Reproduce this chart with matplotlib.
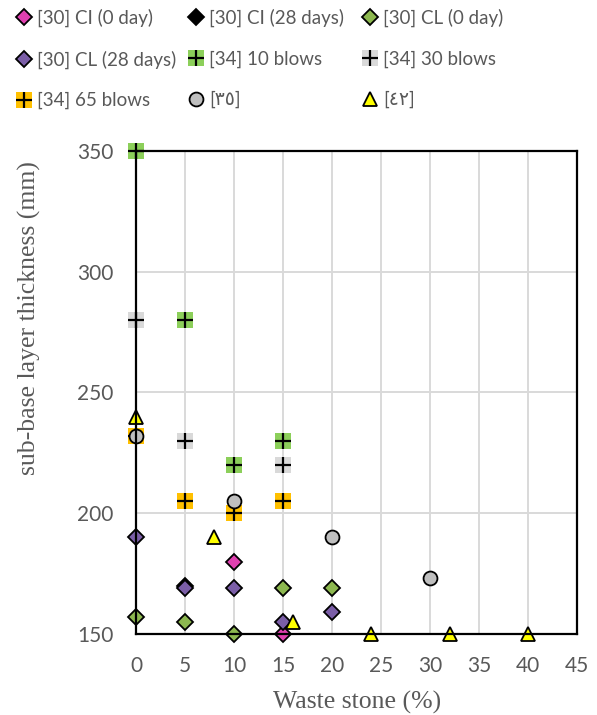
import numpy as np
import matplotlib.pyplot as plt

# data
ci0_x = [10, 15]
ci0_y = [180, 150]
ci28_x = [5]
ci28_y = [170]
cl0_x = [0, 5, 10, 15, 20]
cl0_y = [157, 155, 150, 169, 169]
cl28_x = [0, 5, 10, 15, 20]
cl28_y = [190, 169, 169, 155, 159]
b10_x = [0, 5, 10, 15]
b10_y = [350, 280, 220, 230]
b30_x = [0, 5, 15]
b30_y = [280, 230, 220]
b65_x = [0, 5, 10, 15]
b65_y = [232, 205, 200, 205]
r35_x = [0, 10, 20, 30]
r35_y = [232, 205, 190, 173]
r42_x = [0, 8, 16, 24, 32, 40]
r42_y = [240, 190, 155, 150, 150, 150]

labels = ['[30] CI (0 day)', '[30] CI (28 days)', '[30] CL (0 day)',
          '[30] CL (28 days)', '[34] 10 blows', '[34] 30 blows',
          '[34] 65 blows', '[\u0663\u0665]', '[\u0664\u0662]']

txt = '#595959'
plt.rcParams['font.family'] = ['Lato', 'DejaVu Sans']

fig = plt.figure(figsize=(5.97, 7.15), dpi=100)
ax = fig.add_axes([0.2278, 0.1133, 0.7387, 0.6755])

handles = []
dkw = dict(ls='none', marker='D', ms=8.5, mec='black', mew=1.3, clip_on=False)
handles.append(ax.plot(ci0_x, ci0_y, mfc='#e040b0', **dkw)[0])
handles.append(ax.plot(ci28_x, ci28_y, mfc='black', **dkw)[0])
handles.append(ax.plot(cl0_x, cl0_y, mfc='#8db850', **dkw)[0])
handles.append(ax.plot(cl28_x, cl28_y, mfc='#7b5ea7', **dkw)[0])

for xs, ys, col in [(b10_x, b10_y, '#8ccf5a'), (b30_x, b30_y, '#d9d9d9'), (b65_x, b65_y, '#ffc000')]:
    sq = ax.plot(xs, ys, ls='none', marker='s', ms=11, mfc=col, mec=col, mew=0, clip_on=False)[0]
    pl = ax.plot(xs, ys, ls='none', marker='+', ms=11, mec='black', mew=1.6, clip_on=False)[0]
    handles.append((sq, pl))

handles.append(ax.plot(r35_x, r35_y, ls='none', marker='o', ms=10, mfc='#bfbfbf', mec='black',
                       mew=1.3, clip_on=False)[0])
handles.append(ax.plot(r42_x, r42_y, ls='none', marker='^', ms=10, mfc='#ffff00', mec='black',
                       mew=1.3, clip_on=False)[0])

ax.set_xlim(0, 45)
ax.set_ylim(150, 350)
ax.set_xticks(np.arange(0, 46, 5))
ax.set_yticks(np.arange(150, 351, 50))
ax.grid(True, color='#d9d9d9', lw=1.4)
ax.set_axisbelow(True)
for s in ax.spines.values():
    s.set_color('black')
    s.set_linewidth(1.6)
ax.tick_params(length=0, labelsize=15, labelcolor=txt)
ax.tick_params(axis='x', pad=16)
ax.tick_params(axis='y', pad=16)

fig.text(357 / 597, 1 - 702 / 715, 'Waste stone (%)', family='Liberation Serif',
         fontsize=18.5, color=txt, ha='center', va='center')
fig.text(29 / 597, 1 - 318 / 715, 'sub-base layer thickness (mm)', family='Liberation Serif',
         fontsize=18.5, color=txt, ha='center', va='center', rotation=90)

# one legend per column so the columns sit where they do in the reference
cols = [[0, 3, 6], [1, 4, 7], [2, 5, 8]]
xpos = [0.0237, 0.3125, 0.604]
for idx, x0 in zip(cols, xpos):
    leg = fig.legend([handles[i] for i in idx], [labels[i] for i in idx], ncol=1,
                     loc='upper left', bbox_to_anchor=(x0, 0.988), frameon=False,
                     fontsize=13.5, labelcolor=txt, handlelength=1.0, handletextpad=0.2,
                     labelspacing=1.25, borderpad=0, borderaxespad=0)

fig.savefig('out.png', dpi=100)
